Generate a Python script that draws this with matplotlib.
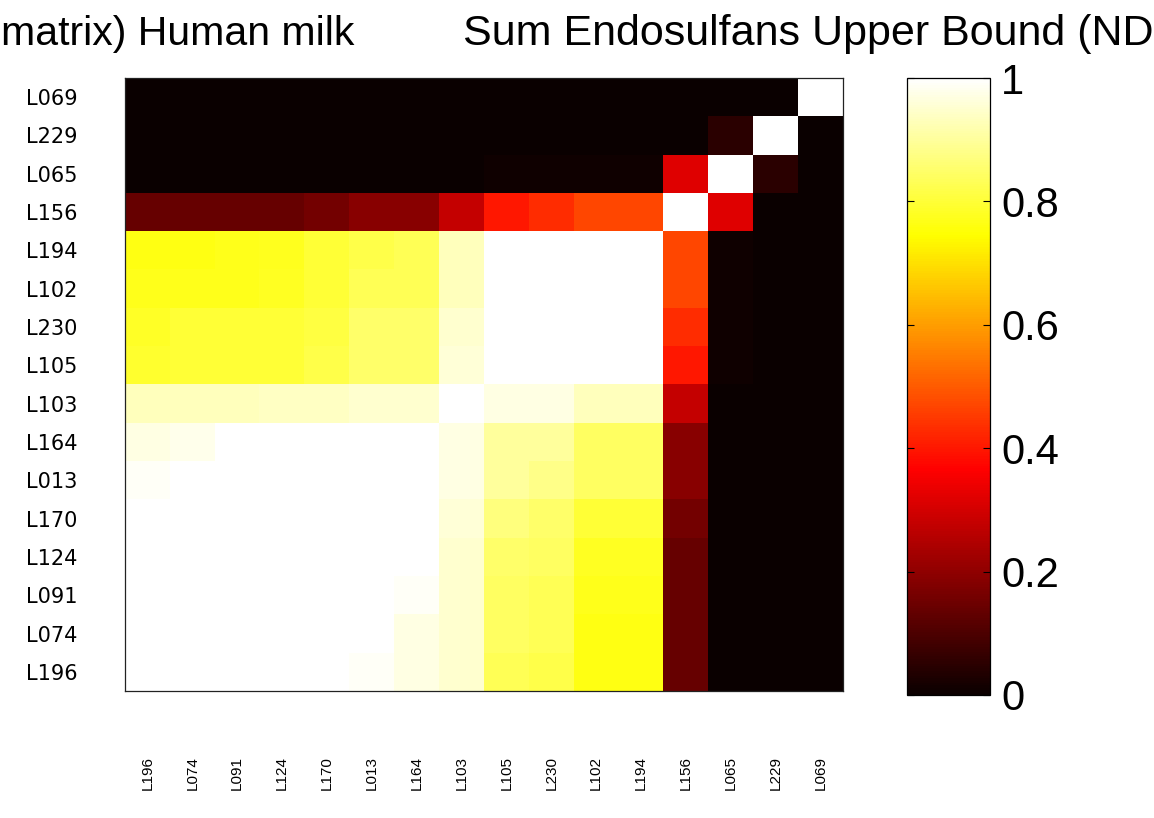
import matplotlib.pyplot as plt
import numpy as np

plt.rcParams['font.family'] = ['Liberation Sans', 'DejaVu Sans']

# column order (left to right); rows are the same list, reversed (top to bottom)
col_labels = ['L196', 'L074', 'L091', 'L124', 'L170', 'L013', 'L164', 'L103',
              'L105', 'L230', 'L102', 'L194', 'L156', 'L065', 'L229', 'L069']
row_labels = col_labels[::-1]

# correlation values, one list per displayed row (top row first)
r_L069 = [0.00, 0.00, 0.00, 0.00, 0.00, 0.00, 0.00, 0.00, 0.00, 0.00, 0.00, 0.00, 0.00, 0.00, 0.00, 1.00]
r_L229 = [0.00, 0.00, 0.00, 0.00, 0.00, 0.00, 0.00, 0.00, 0.00, 0.00, 0.00, 0.00, 0.00, 0.05, 1.00, 0.00]
r_L065 = [0.00, 0.00, 0.00, 0.00, 0.00, 0.00, 0.00, 0.00, 0.01, 0.01, 0.01, 0.01, 0.32, 1.00, 0.05, 0.00]
r_L156 = [0.14, 0.14, 0.14, 0.14, 0.16, 0.19, 0.19, 0.28, 0.40, 0.43, 0.47, 0.47, 1.00, 0.32, 0.00, 0.00]
r_L194 = [0.765, 0.765, 0.77, 0.775, 0.80, 0.82, 0.83, 0.93, 1.00, 1.00, 1.00, 1.00, 0.47, 0.01, 0.00, 0.00]
r_L102 = [0.77, 0.77, 0.77, 0.78, 0.80, 0.83, 0.83, 0.93, 1.00, 1.00, 1.00, 1.00, 0.47, 0.01, 0.00, 0.00]
r_L230 = [0.785, 0.80, 0.80, 0.80, 0.81, 0.85, 0.85, 0.95, 1.00, 1.00, 1.00, 1.00, 0.43, 0.01, 0.00, 0.00]
r_L105 = [0.79, 0.80, 0.80, 0.80, 0.82, 0.85, 0.85, 0.96, 1.00, 1.00, 1.00, 1.00, 0.40, 0.01, 0.00, 0.00]
r_L103 = [0.93, 0.93, 0.93, 0.94, 0.94, 0.95, 0.95, 1.00, 0.97, 0.97, 0.93, 0.93, 0.28, 0.00, 0.00, 0.00]
r_L164 = [0.97, 0.98, 1.00, 1.00, 1.00, 1.00, 1.00, 0.97, 0.90, 0.90, 0.84, 0.84, 0.19, 0.00, 0.00, 0.00]
r_L013 = [0.99, 1.00, 1.00, 1.00, 1.00, 1.00, 1.00, 0.97, 0.90, 0.88, 0.84, 0.84, 0.19, 0.00, 0.00, 0.00]
r_L170 = [1.00, 1.00, 1.00, 1.00, 1.00, 1.00, 1.00, 0.96, 0.87, 0.85, 0.80, 0.80, 0.16, 0.00, 0.00, 0.00]
r_L124 = [1.00, 1.00, 1.00, 1.00, 1.00, 1.00, 1.00, 0.95, 0.85, 0.84, 0.78, 0.78, 0.14, 0.00, 0.00, 0.00]
r_L091 = [1.00, 1.00, 1.00, 1.00, 1.00, 1.00, 0.99, 0.95, 0.84, 0.83, 0.77, 0.77, 0.14, 0.00, 0.00, 0.00]
r_L074 = [1.00, 1.00, 1.00, 1.00, 1.00, 1.00, 0.97, 0.95, 0.84, 0.83, 0.765, 0.765, 0.14, 0.00, 0.00, 0.00]
r_L196 = [1.00, 1.00, 1.00, 1.00, 1.00, 0.99, 0.97, 0.95, 0.83, 0.82, 0.765, 0.765, 0.14, 0.00, 0.00, 0.00]

corr = np.array([r_L069, r_L229, r_L065, r_L156, r_L194, r_L102, r_L230, r_L105,
                 r_L103, r_L164, r_L013, r_L170, r_L124, r_L091, r_L074, r_L196])

cbar_ticks = [0, 0.2, 0.4, 0.6, 0.8, 1]
cbar_ticklabels = ['0', '0.2', '0.4', '0.6', '0.8', '1']

W, H = 1154, 818
fig = plt.figure(figsize=(W / 100, H / 100), dpi=100)

ax = fig.add_axes([125 / W, 1 - 691 / H, 718 / W, 613 / H])
im = ax.imshow(corr, cmap='hot', vmin=0, vmax=1, aspect='auto',
               interpolation='nearest')
ax.set_xticks(range(len(col_labels)))
ax.set_xticklabels(col_labels, rotation=90, fontsize=11)
ax.set_yticks(range(len(row_labels)))
ax.set_yticklabels(row_labels, fontsize=15, family='DejaVu Sans')
ax.tick_params(axis='x', length=0, pad=47)
ax.tick_params(axis='y', length=0, pad=34)
for s in ax.spines.values():
    s.set_linewidth(0.9)
    s.set_color('#222222')

cax = fig.add_axes([907 / W, 1 - 695 / H, 83 / W, 617 / H])
cb = fig.colorbar(im, cax=cax, ticks=cbar_ticks)
cb.ax.set_yticklabels(cbar_ticklabels)
cax.tick_params(direction='in', left=True, right=True, length=5, width=0.8,
                labelsize=30, pad=8)
cb.outline.set_linewidth(0.9)

# title is cropped at both edges in the original figure
fig.text(354 / W, 1 - 45 / H, 'matrix) Human milk', fontsize=29.5,
         ha='right', va='baseline')
fig.text(463 / W, 1 - 45 / H, 'Sum Endosulfans Upper Bound (ND', fontsize=31,
         va='baseline')

fig.savefig('out.png', dpi=100)
